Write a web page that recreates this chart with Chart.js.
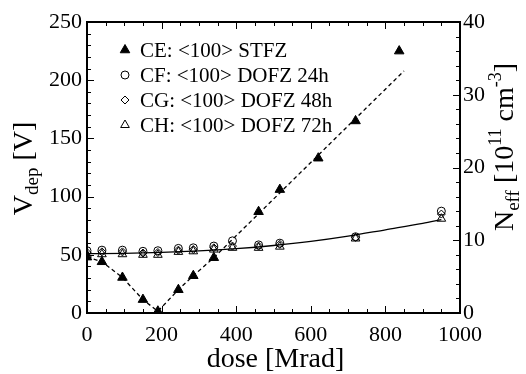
<html>
<head>
<meta charset="utf-8">
<title>Vdep vs dose</title>
<script src="https://cdn.jsdelivr.net/npm/chart.js@4.4.1/dist/chart.umd.min.js"></script>
<style>
  body{margin:0;background:#fff;}
  #c{display:block;}
</style>
</head>
<body>
<canvas id="c" width="526" height="374"></canvas>
<script>
// values
var ceDose = [0, 40, 95, 150, 190, 245, 285, 340, 460, 517, 620, 720, 837];
var ceV    = [48, 44, 30.5, 11.5, 1.5, 20, 32, 47.5, 87, 106, 133, 165, 225];

var openDose = [0, 40, 95, 150, 190, 245, 285, 340, 390, 460, 517, 720, 950];
var cfV = [53.5, 54, 54, 53, 53.5, 55.5, 56, 57.5, 62, 58.5, 60, 65.5, 87.5];
var cgV = [52, 52.5, 52.5, 51.5, 52, 54, 54.5, 56, 57.5, 57.5, 59, 65, 85];
var chV = [50, 50.5, 50.5, 50, 50, 52.5, 53, 54.5, 56, 56, 57, 64, 81];

// dashed guide for CE, solid fit for DOFZ
var ceLineDose = [0, 40, 95, 150, 190, 245, 285, 340, 850];
var ceLineV    = [48, 44, 30.5, 11.5, 1.5, 20, 32, 47.5, 208];
var fitDose = [0, 100, 200, 300, 400, 500, 600, 700, 800, 900, 950];
var fitV    = [51, 51.3, 52, 53.3, 55.3, 58, 61.5, 66, 71.5, 77, 80.3];

var legendNames = ['CE: <100> STFZ', 'CF: <100> DOFZ 24h', 'CG: <100> DOFZ 48h', 'CH: <100> DOFZ 72h'];

var xTicks = [0, 200, 400, 600, 800, 1000];
var yTicks = [0, 50, 100, 150, 200, 250];
var y2Ticks = [0, 10, 20, 30, 40];

var serif = '"Liberation Serif", "Times New Roman", serif';

function pts(xs, ys){
  var out = [];
  for (var i = 0; i < xs.length; i++) out.push({x: xs[i], y: ys[i]});
  return out;
}

var markerSets = [
  {label: legendNames[0], data: pts(ceDose, ceV), pointStyle: 'triangle', pointRadius: 5.5, backgroundColor: '#000', borderColor: '#000', borderWidth: 1},
  {label: legendNames[1], data: pts(openDose, cfV), pointStyle: 'circle', pointRadius: 4, backgroundColor: 'rgba(0,0,0,0)', borderColor: '#000', borderWidth: 1},
  {label: legendNames[2], data: pts(openDose, cgV), pointStyle: 'rectRot', pointRadius: 4, backgroundColor: 'rgba(0,0,0,0)', borderColor: '#000', borderWidth: 1},
  {label: legendNames[3], data: pts(openDose, chV), pointStyle: 'triangle', pointRadius: 5, backgroundColor: 'rgba(0,0,0,0)', borderColor: '#000', borderWidth: 1}
];
markerSets.forEach(function(d){ d.showLine = false; d.order = 1; });

var lineSets = [
  {label: 'ce guide', data: pts(ceLineDose, ceLineV), showLine: true, pointRadius: 0, borderColor: '#000', borderWidth: 1.3, borderDash: [4, 3], order: 2},
  {label: 'fit', data: pts(fitDose, fitV), showLine: true, pointRadius: 0, borderColor: '#000', borderWidth: 1.3, cubicInterpolationMode: 'monotone', order: 2}
];

function minorTicks(step, max){
  var a = [];
  for (var v = 0; v <= max + 1e-9; v += step) a.push(v);
  return a;
}

// inward ticks on all four sides, frame, legend and axis titles
var decor = {
  id: 'decor',
  afterDraw: function(chart){
    var ctx = chart.ctx, a = chart.chartArea;
    var sx = chart.scales.x, sy = chart.scales.y, sy2 = chart.scales.y2;
    ctx.save();
    ctx.strokeStyle = '#000';
    ctx.lineWidth = 1;
    ctx.beginPath();
    minorTicks(50, 1000).forEach(function(v){
      var p = Math.round(sx.getPixelForValue(v)) + 0.5;
      var len = (v % 200 === 0) ? 7 : 4;
      ctx.moveTo(p, a.bottom); ctx.lineTo(p, a.bottom - len);
      ctx.moveTo(p, a.top); ctx.lineTo(p, a.top + len);
    });
    minorTicks(10, 250).forEach(function(v){
      var p = Math.round(sy.getPixelForValue(v)) + 0.5;
      var len = (v % 50 === 0) ? 7 : 4;
      ctx.moveTo(a.left, p); ctx.lineTo(a.left + len, p);
    });
    minorTicks(2, 40).forEach(function(v){
      var p = Math.round(sy2.getPixelForValue(v)) + 0.5;
      var len = (v % 10 === 0) ? 7 : 4;
      ctx.moveTo(a.right, p); ctx.lineTo(a.right - len, p);
    });
    ctx.stroke();
    ctx.lineWidth = 2;
    ctx.strokeRect(a.left, a.top, a.right - a.left, a.bottom - a.top);

    // legend
    var H = Chart.helpers;
    ctx.fillStyle = '#000';
    ctx.font = '21px ' + serif;
    ctx.textBaseline = 'middle';
    ctx.textAlign = 'left';
    markerSets.forEach(function(d, i){
      var y = 50 + i * 25;
      var opt = {pointStyle: d.pointStyle, radius: d.pointRadius, rotation: 0, borderWidth: 1};
      ctx.fillStyle = d.backgroundColor;
      ctx.strokeStyle = '#000';
      ctx.lineWidth = 1;
      H.drawPoint(ctx, opt, 125, y);
      ctx.fillStyle = '#000';
      ctx.fillText(d.label, 140, y + 1);
    });

    // axis titles
    rich(ctx, [['V', 28, 0], ['dep', 19, 6], [' [V]', 28, 0]], 32, (a.top + a.bottom) / 2 + 1, true);
    rich(ctx, [['N', 28, 0], ['eff', 19, 6], [' [10', 28, 0], ['11', 18, -12], [' cm', 28, 0], ['-3', 18, -12], [']', 28, 0]], 513, 147, true);
    rich(ctx, [['dose [Mrad]', 28, 0]], (a.left + a.right) / 2 + 2, 367, false);
    ctx.restore();
  }
};

function rich(ctx, parts, x, y, vertical){
  ctx.save();
  ctx.textBaseline = 'alphabetic';
  ctx.textAlign = 'left';
  ctx.fillStyle = '#000';
  var w = 0;
  parts.forEach(function(p){ ctx.font = p[1] + 'px ' + serif; p.w = ctx.measureText(p[0]).width; w += p.w; });
  ctx.translate(x, y);
  if (vertical) ctx.rotate(-Math.PI / 2);
  var cx = -w / 2;
  parts.forEach(function(p){
    ctx.font = p[1] + 'px ' + serif;
    ctx.fillText(p[0], cx, p[2]);
    cx += p.w;
  });
  ctx.restore();
}

var tickFont = {family: serif, size: 22};
function plain(v){ return String(v); }

new Chart(document.getElementById('c'), {
  type: 'scatter',
  data: {datasets: markerSets.concat(lineSets)},
  options: {
    responsive: false,
    devicePixelRatio: 1,
    animation: false,
    layout: {padding: {top: 22, left: 0, right: 0, bottom: 0}},
    plugins: {legend: {display: false}, tooltip: {enabled: false}},
    scales: {
      x: {
        type: 'linear', min: 0, max: 1000,
        afterBuildTicks: function(s){ s.ticks = xTicks.map(function(v){ return {value: v}; }); },
        afterFit: function(s){ s.height = 61; },
        grid: {display: false, drawTicks: false},
        border: {display: false},
        ticks: {font: tickFont, color: '#000', padding: 9, maxRotation: 0, autoSkip: false, callback: plain}
      },
      y: {
        type: 'linear', min: 0, max: 250,
        afterBuildTicks: function(s){ s.ticks = yTicks.map(function(v){ return {value: v}; }); },
        afterFit: function(s){ s.width = 87; },
        grid: {display: false, drawTicks: false},
        border: {display: false},
        ticks: {font: tickFont, color: '#000', padding: 5, autoSkip: false, callback: plain}
      },
      y2: {
        type: 'linear', position: 'right', min: 0, max: 40,
        afterBuildTicks: function(s){ s.ticks = y2Ticks.map(function(v){ return {value: v}; }); },
        afterFit: function(s){ s.width = 66; },
        grid: {display: false, drawTicks: false},
        border: {display: false},
        ticks: {font: tickFont, color: '#000', padding: 3, autoSkip: false, callback: plain}
      }
    }
  },
  plugins: [decor]
});
</script>
</body>
</html>
